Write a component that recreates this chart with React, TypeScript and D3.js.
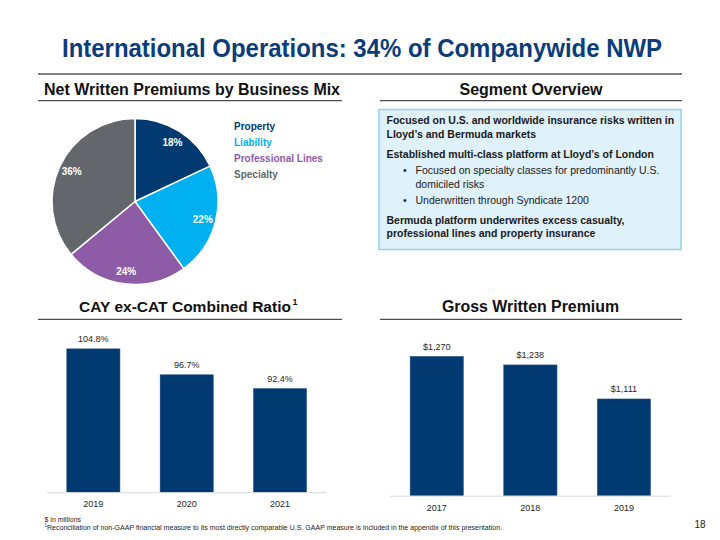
import React from "react";
import * as d3 from "d3";

const pieCategories = ["Property", "Liability", "Professional Lines", "Specialty"];
const pieValues = [18, 22, 24, 36];
const pieColors = ["#003A70", "#00B0F0", "#8E5BA6", "#63666A"];

const crYears = ["2019", "2020", "2021"];
const crValues = [104.8, 96.7, 92.4];

const gwpYears = ["2017", "2018", "2019"];
const gwpValues = [1270, 1238, 1111];

const overviewLines: { text: string; bold: boolean; bullet: boolean }[] = [
  { text: "Focused on U.S. and worldwide insurance risks written in", bold: true, bullet: false },
  { text: "Lloyd\u2019s and Bermuda markets", bold: true, bullet: false },
  { text: "Established multi-class platform at Lloyd\u2019s of London", bold: true, bullet: false },
  { text: "Focused on specialty classes for predominantly U.S.", bold: false, bullet: true },
  { text: "domiciled risks", bold: false, bullet: false },
  { text: "Underwritten through Syndicate 1200", bold: false, bullet: true },
  { text: "Bermuda platform underwrites excess casualty,", bold: true, bullet: false },
  { text: "professional lines and property insurance", bold: true, bullet: false },
];
const overviewBaselines = [124, 138, 158, 174, 188, 204, 224, 237];
const overviewIndent = [false, false, false, true, true, true, false, false];

const NAVY = "#003A70";
const TITLE = "#0B3D7A";
const SANS = "'Liberation Sans', Arial, Helvetica, sans-serif";
const NARROW = "'Liberation Sans Narrow', 'Arial Narrow', 'Liberation Sans', Arial, sans-serif";

function BarPanel({
  years, values, x0, x1, base, domain, pxTop, fmt, yearY,
}: {
  years: string[]; values: number[]; x0: number; x1: number; base: number;
  domain: [number, number]; pxTop: number; fmt: (v: number) => string; yearY: number;
}) {
  const x = d3.scaleBand<string>().domain(years).range([x0, x1]).paddingInner(0.43).paddingOuter(0.215);
  const y = d3.scaleLinear().domain(domain).range([base, pxTop]);
  return (
    <g>
      {values.map((v, i) => (
        <g key={i}>
          <rect x={x(years[i])} y={y(v)} width={x.bandwidth()} height={base - y(v)} fill={NAVY} stroke="#2E5A8C" strokeWidth={0.5} />
          <text x={(x(years[i]) as number) + x.bandwidth() / 2} y={y(v) - 6.5} textAnchor="middle" fontSize={9} fill="#262626" fontFamily={SANS}>
            {fmt(v)}
          </text>
          <text x={(x(years[i]) as number) + x.bandwidth() / 2} y={yearY} textAnchor="middle" fontSize={9} fill="#262626" fontFamily={SANS}>
            {years[i]}
          </text>
        </g>
      ))}
      <line x1={x0} x2={x1} y1={base + 0.5} y2={base + 0.5} stroke="#D9D9D9" strokeWidth={1} />
    </g>
  );
}

export default function App() {
  const cx = 135, cy = 201.5, R = 83;
  const arcs = d3.pie<number>().sort(null).value((d) => d)(pieValues);
  const arcGen = d3.arc<d3.PieArcDatum<number>>().innerRadius(0).outerRadius(R);
  const labelArc = d3.arc<d3.PieArcDatum<number>>().innerRadius(70).outerRadius(70);

  return (
    <svg width={720} height={540} style={{ position: "absolute", left: 0, top: 0, background: "#fff" }}>
      <rect x={0} y={0} width={720} height={540} fill="#ffffff" />
      {/* Title */}
      <text x={362} y={57} textAnchor="middle" fontSize={25} fontWeight="bold" fill={TITLE} fontFamily={NARROW}
        textLength={600} lengthAdjust="spacingAndGlyphs">
        International Operations: 34% of Companywide NWP
      </text>
      <line x1={38} x2={682} y1={74} y2={74} stroke="#808080" strokeWidth={2} />

      {/* Section headers */}
      <text x={192} y={94.5} textAnchor="middle" fontSize={16} fontWeight="bold" fill="#111" fontFamily={NARROW}
        textLength={296} lengthAdjust="spacingAndGlyphs">Net Written Premiums by Business Mix</text>
      <line x1={38} x2={342} y1={100.7} y2={100.7} stroke="#222" strokeWidth={1} />
      <text x={531} y={94.5} textAnchor="middle" fontSize={16} fontWeight="bold" fill="#111" fontFamily={NARROW}
        textLength={143} lengthAdjust="spacingAndGlyphs">Segment Overview</text>
      <line x1={380} x2={682} y1={100.7} y2={100.7} stroke="#222" strokeWidth={1} />

      {/* Pie */}
      <g transform={`translate(${cx},${cy})`}>
        {arcs.map((a, i) => (
          <path key={i} d={arcGen(a) as string} fill={pieColors[i]} stroke="#fff" strokeWidth={1.5} />
        ))}
        {arcs.map((a, i) => {
          const [lx, ly] = labelArc.centroid(a);
          return (
            <text key={i} x={lx} y={ly + 3.6} textAnchor="middle" fontSize={10} fontWeight="bold" fill="#fff" fontFamily={SANS}>
              {pieValues[i]}%
            </text>
          );
        })}
      </g>
      {pieCategories.map((c, i) => (
        <text key={c} x={234} y={130.3 + i * 16} fontSize={10} fontWeight="bold" fill={pieColors[i]} fontFamily={SANS}>
          {c}
        </text>
      ))}

      {/* Segment overview box */}
      <rect x={379} y={109.5} width={302} height={140} fill="#DFF1FA" stroke="#8ED3F0" strokeWidth={1.5} />
      {overviewLines.map((l, i) => (
        <g key={i}>
          {l.bullet && (
            <text x={403} y={overviewBaselines[i]} fontSize={10.5} fill="#222" fontFamily={SANS}>{"\u2022"}</text>
          )}
          <text x={overviewIndent[i] ? 415.5 : 386.5} y={overviewBaselines[i]} fontSize={10.5}
            fontWeight={l.bold ? "bold" : "normal"} fill="#1a1a1a" fontFamily={SANS}>
            {l.text}
          </text>
        </g>
      ))}

      {/* Lower headers */}
      <text x={79} y={312} fontSize={15.4} fontWeight="bold" fill="#111" fontFamily={NARROW}
        textLength={212} lengthAdjust="spacingAndGlyphs">CAY ex-CAT Combined Ratio</text>
      <text x={292.5} y={305} fontSize={9} fontWeight="bold" fill="#111" fontFamily={NARROW}>1</text>
      <line x1={38} x2={342} y1={319.3} y2={319.3} stroke="#222" strokeWidth={1} />
      <text x={530.5} y={312} textAnchor="middle" fontSize={16} fontWeight="bold" fill="#111" fontFamily={NARROW}
        textLength={177} lengthAdjust="spacingAndGlyphs">Gross Written Premium</text>
      <line x1={380} x2={682} y1={319.3} y2={319.3} stroke="#222" strokeWidth={1} />

      {/* Bar charts */}
      <BarPanel years={crYears} values={crValues} x0={46.7} x1={326.7} base={492.2} domain={[60, 110]} pxTop={332.2}
        fmt={(v) => `${v.toFixed(1)}%`} yearY={506.5} />
      <BarPanel years={gwpYears} values={gwpValues} x0={390} x1={670.7} base={495.7} domain={[750, 1300]} pxTop={348.3}
        fmt={(v) => `$${d3.format(",")(v)}`} yearY={510.5} />

      {/* Footer */}
      <text x={44.5} y={521.5} fontSize={7} fill="#222" fontFamily={NARROW}>$ in millions</text>
      <text x={44.5} y={526.5} fontSize={4.5} fill="#222" fontFamily={NARROW}>1</text>
      <text x={47} y={530} fontSize={7} fill="#222" fontFamily={NARROW} textLength={455} lengthAdjust="spacingAndGlyphs">
        Reconciliation of non-GAAP financial measure to its most directly comparable U.S. GAAP measure is included in the appendix of this presentation.
      </text>
      <text x={700} y={528} textAnchor="middle" fontSize={10} fill="#222" fontFamily={SANS}>18</text>
    </svg>
  );
}
